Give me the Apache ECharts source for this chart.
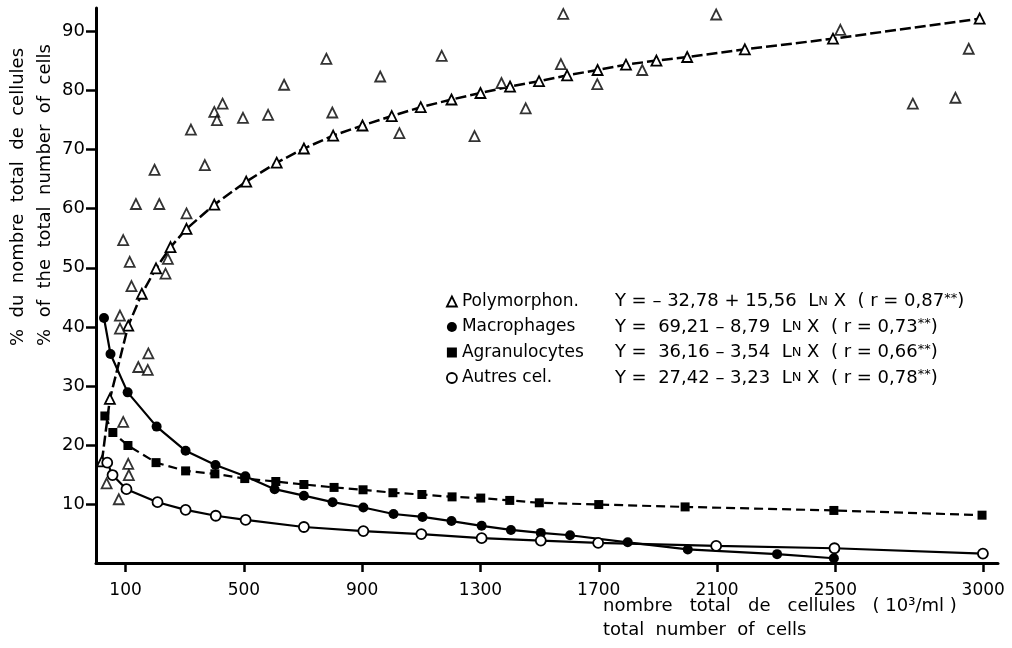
<!DOCTYPE html>
<html>
<head>
<meta charset="utf-8">
<script src="https://cdn.jsdelivr.net/npm/echarts@6/dist/echarts.min.js"></script>
<style>
  html, body { margin: 0; padding: 0; background: #fff; }
  #chart { width: 1012px; height: 648px; }
</style>
</head>
<body>
<div id="chart"></div>
<script>
// noms des séries et équations de régression
var seriesNames = ['Polymorphon.', 'Macrophages', 'Agranulocytes', 'Autres cel.'];
var eqLeft = ['Y = \u2013 32,78 + 15,56', 'Y =  69,21 \u2013 8,79', 'Y =  36,16 \u2013 3,54', 'Y =  27,42 \u2013 3,23'];
var eqR = ['0,87', '0,73', '0,66', '0,78'];

var xTicks = [100, 500, 900, 1300, 1700, 2100, 2500, 3000];
var yTicks = [10, 20, 30, 40, 50, 60, 70, 80, 90];

// Polymorphonucléaires : valeurs ajustées (courbe)
var polyFitX = [20, 47, 109, 155, 203, 252, 306, 400, 508, 611, 703, 802, 901, 1000, 1098, 1202, 1300, 1400, 1498, 1593, 1696, 1792, 1895, 1999, 2194, 2492, 2988];
var polyFitY = [17.2, 27.8, 40.2, 45.6, 49.9, 53.5, 56.6, 60.7, 64.6, 67.8, 70.2, 72.4, 74.1, 75.7, 77.2, 78.5, 79.6, 80.7, 81.6, 82.6, 83.5, 84.4, 85.1, 85.7, 87.0, 88.8, 92.2];

// Polymorphonucléaires : valeurs observées
var polyObsX = [92, 114, 120, 135, 198, 214, 235, 243, 306, 321, 368, 400, 409, 428, 497, 582, 636, 779, 799, 961, 1026, 1169, 1280, 1371, 1453, 1572, 1580, 1695, 1847, 2097, 2517, 2762, 2906, 2951,
                81, 81, 177, 143, 175, 92, 109, 111, 36, 77];
var polyObsY = [54.7, 51.0, 46.9, 60.8, 66.6, 60.8, 49.0, 51.5, 59.2, 73.4, 67.4, 76.4, 75.0, 77.8, 75.4, 75.9, 81.0, 85.4, 76.3, 82.4, 72.8, 85.9, 72.3, 81.3, 77.0, 84.5, 93.0, 81.1, 83.5, 92.9, 90.3, 77.8, 78.8, 87.1,
                41.9, 39.7, 35.5, 33.2, 32.7, 23.9, 16.8, 14.9, 13.5, 10.8];

var macroX = [27, 49, 107, 205, 303, 404, 505, 604, 703, 800, 904, 1006, 1104, 1202, 1304, 1403, 1504, 1603, 1798, 2001, 2303, 2495];
var macroY = [41.5, 35.4, 28.9, 23.1, 19.0, 16.6, 14.7, 12.5, 11.4, 10.3, 9.4, 8.3, 7.8, 7.1, 6.3, 5.6, 5.1, 4.7, 3.5, 2.3, 1.5, 0.8];

var agranX = [30, 57, 108, 203, 303, 402, 503, 608, 703, 805, 903, 1004, 1102, 1204, 1301, 1399, 1499, 1700, 1992, 2495, 2996];
var agranY = [24.9, 22.1, 19.9, 17.0, 15.6, 15.1, 14.3, 13.8, 13.3, 12.8, 12.4, 11.9, 11.6, 11.2, 11.0, 10.6, 10.2, 9.9, 9.5, 8.9, 8.1];

var autresX = [38, 56, 103, 208, 303, 405, 506, 703, 904, 1100, 1304, 1504, 1698, 2097, 2497, 2999];
var autresY = [17.0, 14.9, 12.5, 10.3, 9.0, 8.0, 7.3, 6.1, 5.4, 4.9, 4.2, 3.8, 3.4, 2.9, 2.5, 1.6];

function pairs(xs, ys) {
    return xs.map(function (x, i) { return [x, ys[i]]; });
}

var font = 'DejaVu Sans';
var myChart = echarts.init(document.getElementById('chart'));

var hollow = {color: '#fff', borderColor: '#000', borderWidth: 1.8};
var filled = {color: '#000', borderColor: '#000', borderWidth: 0};

var option = {
    backgroundColor: '#fff',
    animation: false,
    grid: {left: 96, right: 14, top: 8, bottom: 85},
    xAxis: {
        type: 'value',
        min: 0,
        max: 3050,
        axisLine: {lineStyle: {color: '#000', width: 3}},
        axisTick: {customValues: xTicks, length: 9, lineStyle: {color: '#000', width: 2.5}},
        axisLabel: {
            customValues: xTicks, margin: 19, color: '#000', fontFamily: font, fontSize: 17,
            formatter: function (v) { return String(v); }
        },
        splitLine: {show: false}
    },
    yAxis: {
        type: 'value',
        min: 0,
        max: 94,
        axisLine: {show: true, lineStyle: {color: '#000', width: 3}},
        axisTick: {show: true, customValues: yTicks, length: 10, lineStyle: {color: '#000', width: 2.5}},
        axisLabel: {customValues: yTicks, margin: 11, color: '#000', fontFamily: font, fontSize: 18, padding: [0, 0, 10, 0]},
        splitLine: {show: false}
    },
    legend: {
        orient: 'vertical',
        left: 441,
        top: 287,
        itemWidth: 10,
        itemHeight: 10,
        itemGap: 7,
        selectedMode: false,
        data: [
            {name: seriesNames[0], icon: 'triangle', itemStyle: hollow},
            {name: seriesNames[1], icon: 'circle', itemStyle: filled},
            {name: seriesNames[2], icon: 'rect', itemStyle: filled},
            {name: seriesNames[3], icon: 'circle', itemStyle: hollow}
        ],
        formatter: function (name) {
            var i = seriesNames.indexOf(name);
            return '{n|' + name + '}{e|' + eqLeft[i] + '  L}{sc|N}{e| X  ( r = ' + eqR[i] + '}{s|**}{e|)}';
        },
        textStyle: {
            color: '#000',
            fontFamily: font,
            fontSize: 18,
            rich: {
                n: {width: 153, fontFamily: font, fontSize: 17, color: '#000', lineHeight: 19},
                e: {fontFamily: font, fontSize: 18, color: '#000', lineHeight: 19},
                sc: {fontFamily: font, fontSize: 13, color: '#000', lineHeight: 19},
                s: {fontFamily: font, fontSize: 13, color: '#000', verticalAlign: 'top', lineHeight: 19}
            }
        }
    },
    graphic: [
        {type: 'text', x: 18, y: 197, rotation: Math.PI / 2,
         style: {text: '%  du  nombre  total  de  cellules', fill: '#000', font: '18px "DejaVu Sans"', align: 'center', verticalAlign: 'middle'}},
        {type: 'text', x: 45, y: 195, rotation: Math.PI / 2,
         style: {text: '%  of  the  total  number  of  cells', fill: '#000', font: '18px "DejaVu Sans"', align: 'center', verticalAlign: 'middle'}},
        {type: 'text', left: 603, top: 597,
         style: {text: 'nombre   total   de   cellules   ( 10\u00b3/ml )', fill: '#000', font: '18px "DejaVu Sans"'}},
        {type: 'text', left: 603, top: 621,
         style: {text: 'total  number  of  cells', fill: '#000', font: '18px "DejaVu Sans"'}}
    ],
    series: [{
        name: seriesNames[0],
        type: 'line',
        data: pairs(polyFitX, polyFitY),
        symbol: 'triangle',
        symbolSize: 10,
        showAllSymbol: true,
        lineStyle: {color: '#000', width: 2.5, type: [11, 4]},
        itemStyle: hollow,
        z: 3
    }, {
        name: seriesNames[0],
        type: 'scatter',
        data: pairs(polyObsX, polyObsY),
        symbol: 'triangle',
        symbolSize: 10,
        itemStyle: hollow,
        z: 4
    }, {
        name: seriesNames[1],
        type: 'line',
        data: pairs(macroX, macroY),
        symbol: 'circle',
        symbolSize: 10,
        showAllSymbol: true,
        lineStyle: {color: '#000', width: 2.2},
        itemStyle: filled,
        z: 3
    }, {
        name: seriesNames[2],
        type: 'line',
        data: pairs(agranX, agranY),
        symbol: 'rect',
        symbolSize: 9,
        showAllSymbol: true,
        lineStyle: {color: '#000', width: 2.2, type: [9, 5]},
        itemStyle: filled,
        z: 3
    }, {
        name: seriesNames[3],
        type: 'line',
        data: pairs(autresX, autresY),
        symbol: 'circle',
        symbolSize: 10,
        showAllSymbol: true,
        lineStyle: {color: '#000', width: 2.2},
        itemStyle: hollow,
        z: 3
    }]
};

myChart.setOption(option);
</script>
</body>
</html>
